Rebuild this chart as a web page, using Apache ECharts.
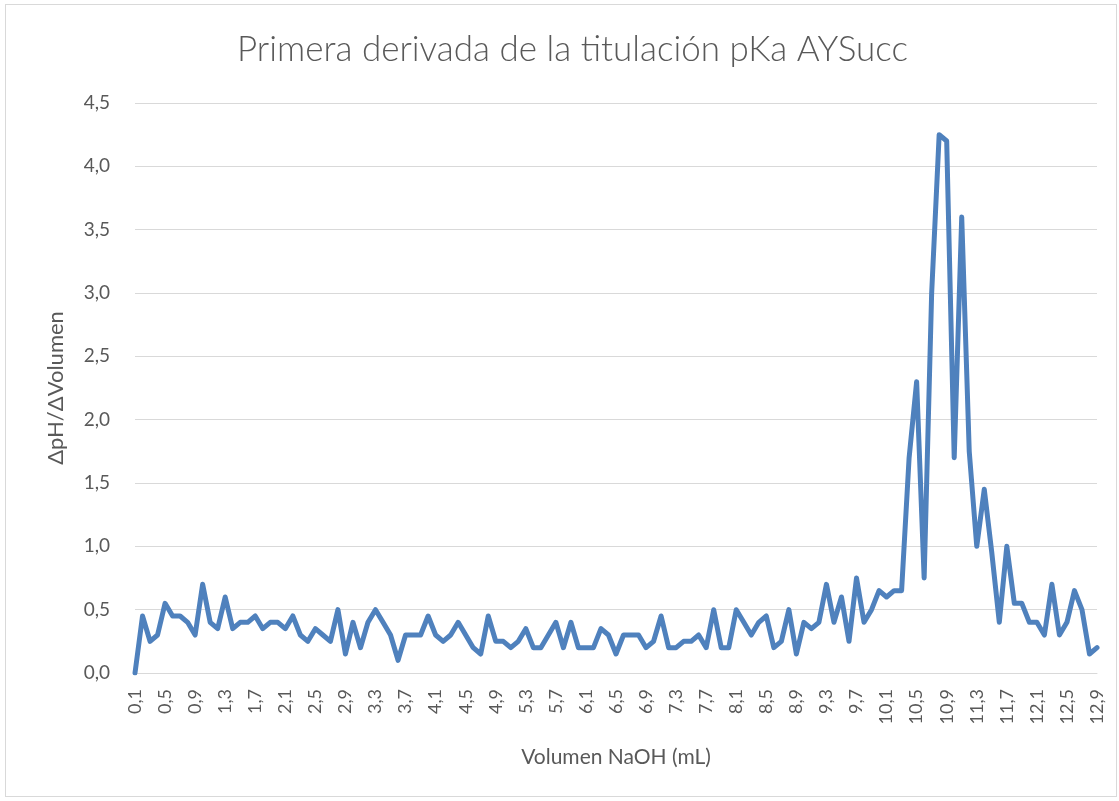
<!DOCTYPE html>
<html>
<head>
<meta charset="utf-8">
<script src="https://cdn.jsdelivr.net/npm/echarts@6/dist/echarts.min.js"></script>
<style>
    html, body { margin: 0; padding: 0; background: #fff; }
    #frame {
        position: absolute; left: 5px; top: 4px; width: 1112px; height: 793px;
        border: 1px solid #d9d9d9; box-sizing: border-box;
    }
    #plot { position: absolute; left: 0; top: 0; width: 1119px; height: 801px; }
</style>
</head>
<body>
<div id="frame"></div>
<div id="plot"></div>
<script>
// volumen NaOH (mL): 0,1 ... 12,9
const volumes = Array.from({ length: 129 }, (_, i) => ((i + 1) / 10).toFixed(1).replace(".", ","));

// primera derivada dpH/dV
const derivada = [
    0.00, 0.45, 0.25, 0.30, 0.55, 0.45, 0.45, 0.40, 0.30, 0.70,
    0.40, 0.35, 0.60, 0.35, 0.40, 0.40, 0.45, 0.35, 0.40, 0.40,
    0.35, 0.45, 0.30, 0.25, 0.35, 0.30, 0.25, 0.50, 0.15, 0.40,
    0.20, 0.40, 0.50, 0.40, 0.30, 0.10, 0.30, 0.30, 0.30, 0.45,
    0.30, 0.25, 0.30, 0.40, 0.30, 0.20, 0.15, 0.45, 0.25, 0.25,
    0.20, 0.25, 0.35, 0.20, 0.20, 0.30, 0.40, 0.20, 0.40, 0.20,
    0.20, 0.20, 0.35, 0.30, 0.15, 0.30, 0.30, 0.30, 0.20, 0.25,
    0.45, 0.20, 0.20, 0.25, 0.25, 0.30, 0.20, 0.50, 0.20, 0.20,
    0.50, 0.40, 0.30, 0.40, 0.45, 0.20, 0.25, 0.50, 0.15, 0.40,
    0.35, 0.40, 0.70, 0.40, 0.60, 0.25, 0.75, 0.40, 0.50, 0.65,
    0.60, 0.65, 0.65, 1.70, 2.30, 0.75, 3.00, 4.25, 4.20, 1.70,
    3.60, 1.75, 1.00, 1.45, 0.95, 0.40, 1.00, 0.55, 0.55, 0.40,
    0.40, 0.30, 0.70, 0.30, 0.40, 0.65, 0.50, 0.15, 0.20
];

const yTicks = { min: 0, max: 4.5, step: 0.5 };

const fontFamily = "Lato, 'Open Sans', sans-serif";
const textColor = "#595959";

let chart = echarts.init(document.getElementById("plot"));
chart.setOption({
    animation: false,
    title: {
        text: "Primera derivada de la titulación pKa AYSucc",
        left: 232,
        top: 27,
        textStyle: { fontFamily, fontSize: 35, fontWeight: 300, color: textColor }
    },
    grid: { left: 135, right: 22, top: 103, bottom: 128, containLabel: false },
    xAxis: {
        type: "category",
        data: volumes,
        boundaryGap: false,
        name: "Volumen NaOH (mL)",
        nameLocation: "middle",
        nameGap: 74,
        nameTextStyle: { fontFamily, fontSize: 21, color: textColor },
        axisLine: { show: true, lineStyle: { color: "#d9d9d9", width: 1 } },
        axisTick: { show: false },
        axisLabel: {
            interval: 3,
            rotate: 90,
            margin: 16,
            fontFamily, fontSize: 18, color: textColor
        },
        splitLine: { show: false }
    },
    yAxis: {
        type: "value",
        min: yTicks.min,
        max: yTicks.max,
        interval: yTicks.step,
        name: "ΔpH/ΔVolumen",
        nameLocation: "middle",
        nameGap: 68,
        nameTextStyle: { fontFamily, fontSize: 22, color: textColor },
        axisLine: { show: false },
        axisTick: { show: false },
        axisLabel: {
            margin: 25,
            fontFamily, fontSize: 19, color: textColor,
            formatter: v => v.toFixed(1).replace(".", ",")
        },
        splitLine: { lineStyle: { color: "#d9d9d9", width: 1 } }
    },
    series: [
        {
            type: "line",
            data: derivada,
            showSymbol: false,
            symbol: "none",
            lineStyle: { color: "#4f81bd", width: 5, join: "round", cap: "round" },
            itemStyle: { color: "#4f81bd" }
        }
    ]
});
</script>
</body>
</html>
